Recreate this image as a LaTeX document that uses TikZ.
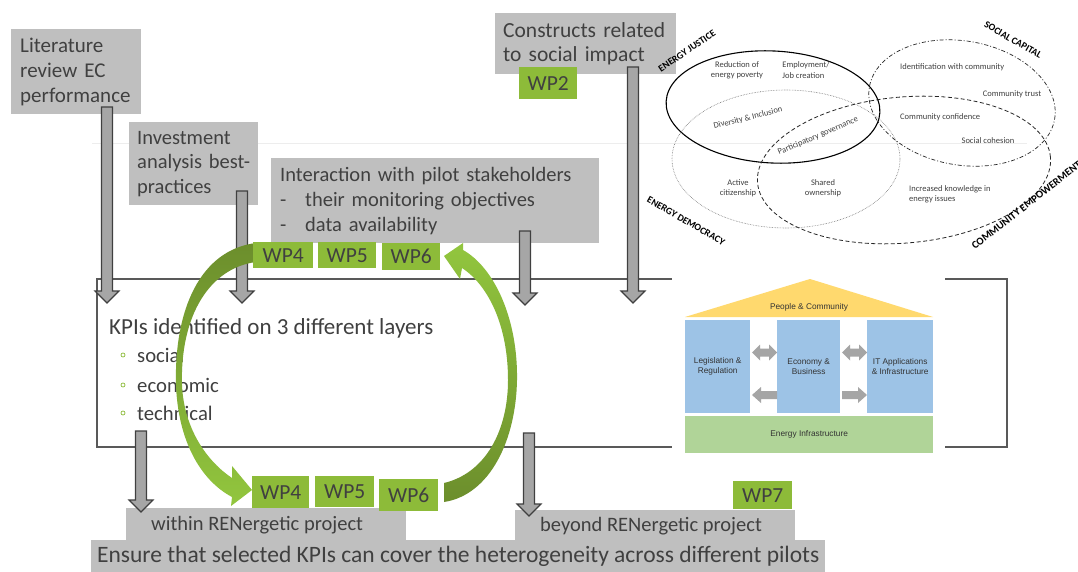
\documentclass[tikz,border=0pt]{standalone}
\usepackage{fontspec}
\setmainfont{Carlito}
\newfontfamily\housefont{Liberation Sans}
\usetikzlibrary{calc}

\definecolor{txt}{RGB}{64,64,64}
\definecolor{boxgray}{RGB}{191,191,191}
\definecolor{arrgray}{RGB}{166,166,166}
\definecolor{arredge}{RGB}{64,64,64}
\definecolor{wpgreen}{RGB}{141,187,57}
\definecolor{gdark}{RGB}{108,142,44}
\definecolor{glight}{RGB}{146,198,62}
\definecolor{frame}{RGB}{89,89,89}
\definecolor{roof}{RGB}{255,217,110}
\definecolor{pillar}{RGB}{157,195,230}
\definecolor{basebar}{RGB}{176,212,152}
\definecolor{hgray}{RGB}{165,165,165}

% vertical block arrow between two named coordinates (same x)
\newcommand{\blockdown}[2]{%
  \filldraw[blockarrow] let \p1=(#1), \p2=(#2) in
    (\x1-5.5,\y1) -- (\x1+5.5,\y1) -- (\x1+5.5,\y2+12) -- (\x1+12,\y2+12)
    -- (\x1,\y2) -- (\x1-12,\y2+12) -- (\x1-5.5,\y2+12) -- cycle;}

\tikzset{
  blockarrow/.style={fill=arrgray, draw=arredge, line width=1.1pt, line join=miter},
  srcbox/.style={fill=boxgray, anchor=north west, inner ysep=0pt, align=left,
    text=txt, font=\fontsize{21}{25}\selectfont},
  wpbox/.style={fill=wpgreen, anchor=north west, inner sep=0pt, text=txt,
    font=\fontsize{21.5}{21.5}\selectfont},
  outbox/.style={fill=boxgray, anchor=north west, inner sep=0pt, text=txt},
  item/.style={anchor=west, text=txt, font=\fontsize{20.7}{20.7}\selectfont, inner sep=0pt},
  vlabel/.style={text=txt, font=\fontsize{8.5}{10.3}\selectfont, inner sep=0pt},
  vcap/.style={text=black, font=\bfseries\fontsize{9.8}{10}\selectfont, inner sep=0pt},
  hlabel/.style={text=black!80, font=\housefont\fontsize{8.3}{10}\selectfont, align=center, inner sep=0pt},
}

\begin{document}
\begin{tikzpicture}[x=1pt,y=-1pt]
\useasboundingbox (0,0) rectangle (1078,572);
\fill[white] (0,0) rectangle (1078,572);
\draw[black!7, line width=0.6pt] (92,143) -- (1027,143);

% central frame with the KPI layers
\node[draw=frame, line width=1.5pt, fill=white, anchor=north west,
      minimum width=910pt, minimum height=168pt, inner sep=0pt] (kpibox) at (96,278) {};
\node[item, font=\fontsize{23}{23}\selectfont] (kpi) at (109,328) {KPIs identified on 3 different layers};
\foreach \y/\t/\n in {355/social/soc, 385/economic/eco, 413/technical/tec}{
  \draw[wpgreen, line width=0.7pt] (123,\y) circle (2pt);
  \node[item] (\n) at (137,\y) {\t};
}

% house of layers
\fill[white] (672,250) rectangle (945,460);
\fill[roof] (685,317) -- (810,279) -- (933,317) -- cycle;
\node[hlabel] (people) at (809,307) {People \& Community};
\node[fill=pillar, anchor=north west, minimum width=65pt, minimum height=93pt, inner sep=0pt, hlabel] (leg) at (685,320) {Legislation \&\\Regulation};
\node[fill=pillar, anchor=north west, minimum width=63pt, minimum height=93pt, inner sep=0pt, hlabel] (eco2) at (777,320) {Economy \&\\Business};
\node[fill=pillar, anchor=north west, minimum width=66pt, minimum height=93pt, inner sep=0pt, hlabel] (it) at (867,320) {IT Applications\\\& Infrastructure};
\node[fill=basebar, anchor=north west, minimum width=248pt, minimum height=37pt, inner sep=0pt, hlabel] (einf) at (685,416) {Energy Infrastructure};
\foreach \xa/\xb in {752/777, 842/867}{
  \fill[hgray] (\xa,352.5) -- (\xa+8,344.5) -- (\xa+8,348.5) -- (\xb-8,348.5) -- (\xb-8,344.5)
    -- (\xb,352.5) -- (\xb-8,360.5) -- (\xb-8,356.5) -- (\xa+8,356.5) -- (\xa+8,360.5) -- cycle;
}
\fill[hgray] (752,395) -- (761,387) -- (761,391) -- (777,391) -- (777,399) -- (761,399) -- (761,403) -- cycle;
\fill[hgray] (867,395) -- (858,387) -- (858,391) -- (842,391) -- (842,399) -- (858,399) -- (858,403) -- cycle;

% source boxes
\node[srcbox, minimum width=130pt, minimum height=85pt, inner xsep=9pt, text width=112pt] (lit) at (11,29)
  {\mbox{Literature}\\\mbox{review EC}\\\mbox{performance}};
\node[srcbox, minimum width=129pt, minimum height=83pt, inner xsep=8pt, text width=113pt,
      font=\fontsize{20.5}{24.5}\selectfont] (inv) at (129,122)
  {\mbox{Investment}\\\mbox{analysis best-}\\\mbox{practices}};
\node[srcbox, minimum width=328pt, minimum height=85pt, inner xsep=9pt, text width=310pt,
      font=\fontsize{20.5}{25}\selectfont] (inter) at (271,158)
  {Interaction with pilot stakeholders\\\makebox[25pt][l]{-}their monitoring objectives\\\makebox[25pt][l]{-}data availability};
\node[srcbox, minimum width=181pt, minimum height=61pt, inner xsep=8pt, text width=165pt,
      font=\fontsize{21.5}{24.5}\selectfont] (cons) at (495,13)
  {Constructs related\\to social impact};
\node[wpbox, minimum width=58pt, minimum height=32pt] (wp2) at (519,67) {WP2};

% social impact constructs
\draw[black, line width=1.1pt, rotate around={-3:(773,107)}] (773,107) ellipse [x radius=107pt, y radius=56pt];
\draw[black!55, line width=0.6pt, densely dotted] (786,159) ellipse [x radius=114pt, y radius=69pt];
\draw[black!85, line width=0.7pt, dash pattern=on 4pt off 2pt on 1pt off 2pt, rotate around={-10:(962,103)}]
  (962,103) ellipse [x radius=94pt, y radius=62pt];
\draw[black!85, line width=0.8pt, dash pattern=on 4pt off 2.5pt, rotate around={5:(904,170)}]
  (904,170) ellipse [x radius=147pt, y radius=73pt];
\node[vcap, rotate=34] (ej) at (687,51) {ENERGY JUSTICE};
\node[vcap, rotate=-30] (sc) at (1013,40) {SOCIAL CAPITAL};
\node[vcap, rotate=-30] (ed) at (686,221) {ENERGY DEMOCRACY};
\node[vcap, rotate=38, anchor=south west, font=\bfseries\fontsize{10.6}{11}\selectfont] (ce) at (975,250) {COMMUNITY EMPOWERMENT};
\node[vlabel, align=center] (v1) at (737,70) {Reduction of\\energy poverty};
\node[vlabel, align=left] (v2) at (806,70) {Employment/\\Job creation};
\node[vlabel, anchor=west] (v3) at (900,67) {Identification with community};
\node[vlabel] (v4) at (1012,94) {Community trust};
\node[vlabel, anchor=west] (v5) at (900,117) {Community confidence};
\node[vlabel] (v6) at (988,141) {Social cohesion};
\node[vlabel, rotate=14] (v7) at (748,118) {Diversity \& Inclusion};
\node[vlabel, rotate=23] (v8) at (818,136) {Participatory governance};
\node[vlabel, align=center] (v9) at (738,188) {Active\\citizenship};
\node[vlabel, align=center] (v10) at (823,188) {Shared\\ownership};
\node[vlabel, align=left, anchor=west] (v11) at (909,194) {Increased knowledge in\\energy issues};

% outputs
\node[outbox, minimum width=280pt, minimum height=34pt, font=\fontsize{20.5}{20.5}\selectfont] (within) at (126,508)
  {\raisebox{3pt}{\makebox[230pt][l]{within RENergetic project}}};
\node[outbox, minimum width=280pt, minimum height=32pt, font=\fontsize{20.5}{20.5}\selectfont] (beyond) at (515,510)
  {\raisebox{1pt}{\makebox[230pt][l]{beyond RENergetic project}}};
\node[outbox, minimum width=734pt, minimum height=32pt, font=\fontsize{23.5}{23.5}\selectfont] (ensure) at (91,540)
  {Ensure that selected KPIs can cover the heterogeneity across different pilots};
\node[wpbox, minimum width=59pt, minimum height=28pt] (wp7) at (733,481) {WP7};

% inputs flowing into the KPI frame, and results flowing out
\coordinate (litS) at (107,107);  \coordinate (litE) at (107,303);
\coordinate (invS) at (242,191);  \coordinate (invE) at (242,303);
\coordinate (intS) at (525,231);  \coordinate (intE) at (525,305);
\coordinate (conS) at (633,67);   \coordinate (conE) at (633,303);
\coordinate (outaS) at (141,431); \coordinate (outaE) at (141,512);
\coordinate (outbS) at (529,433); \coordinate (outbE) at (529,516);
\blockdown{litS}{litE}
\blockdown{invS}{invE}
\blockdown{intS}{intE}
\blockdown{conS}{conE}
\blockdown{outaS}{outaE}
\blockdown{outbS}{outbE}

% iteration loop between the work packages
\shade[top color=gdark, bottom color=glight]
  (256,243) .. controls (200,250) and (174,310) .. (176,385)
  .. controls (178,440) and (200,480) .. (232,497)
  -- (231,506) -- (252,490) -- (232,466) -- (232,478)
  .. controls (208,462) and (184,430) .. (182,385)
  .. controls (180,315) and (210,268) .. (256,262) -- cycle;
\shade[bottom color=gdark, top color=glight]
  (444,502) .. controls (490,495) and (516,440) .. (517,380)
  .. controls (518,320) and (495,268) .. (463,250)
  -- (463,243) -- (444,256) -- (460,279) -- (462,268)
  .. controls (488,285) and (508,325) .. (508,380)
  .. controls (508,430) and (486,473) .. (444,483) -- cycle;

\node[wpbox, minimum width=60pt, minimum height=26pt] (wp4a) at (253,242) {WP4};
\node[wpbox, minimum width=58pt, minimum height=26pt] (wp5a) at (318,242) {WP5};
\node[wpbox, minimum width=58pt, minimum height=27pt] (wp6a) at (382,243) {WP6};
\node[wpbox, minimum width=57pt, minimum height=32pt] (wp4b) at (252,476) {WP4};
\node[wpbox, minimum width=59pt, minimum height=31pt] (wp5b) at (315,476) {WP5};
\node[wpbox, minimum width=59pt, minimum height=32pt] (wp6b) at (379,479) {WP6};
\end{tikzpicture}
\end{document}
